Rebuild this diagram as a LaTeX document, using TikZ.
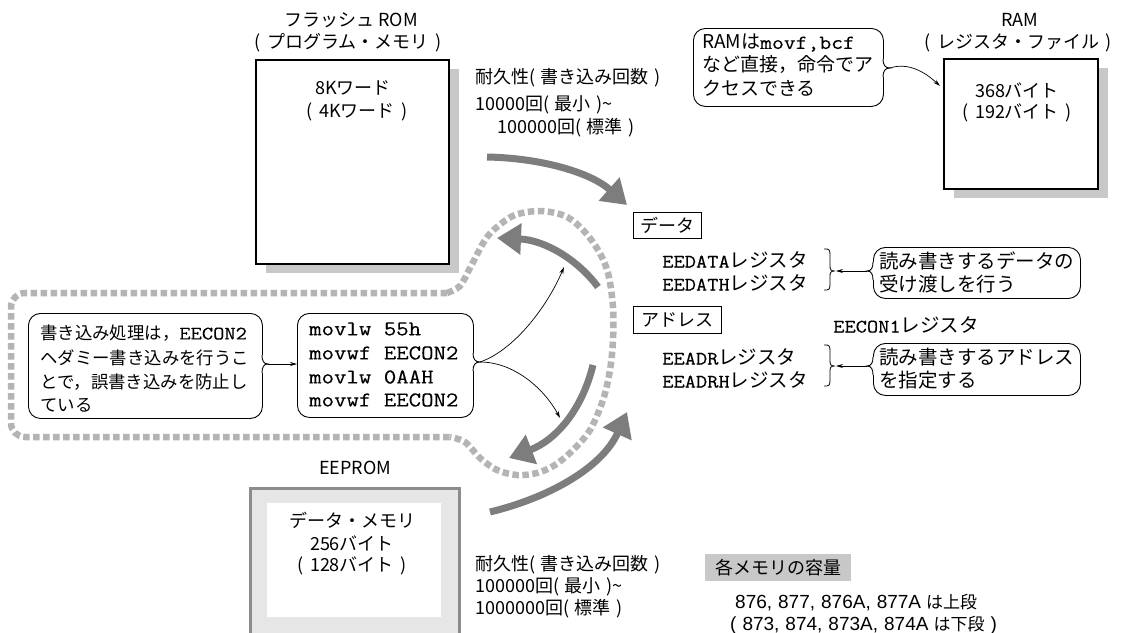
\documentclass[tikz,border=0pt]{standalone}
\usepackage{fontspec}
\setmainfont{Noto Sans CJK JP}
\setmonofont[FakeStretch=1.15,FakeBold=0.3]{Latin Modern Mono}
\newfontfamily\lat{Liberation Sans}
\usetikzlibrary{arrows.meta,calc,shadows}
\definecolor{arrowgray}{RGB}{125,125,125}
\definecolor{dotgray}{RGB}{180,180,180}
\definecolor{shadowgray}{RGB}{200,200,200}
\definecolor{eepromborder}{RGB}{140,140,140}
\definecolor{eepromfill}{RGB}{230,230,230}
\definecolor{labelgray}{RGB}{200,200,200}
\newcommand{\fs}[1]{\fontsize{#1}{#1}\selectfont}
\newcommand{\LP}{(\hspace{0.35em}}
\newcommand{\RP}{\hspace{0.35em})}
\newcommand{\mynotch}[3]{%
  \fill[white] ({#1-1.5},{#2-9}) rectangle ({#1+1.5},{#2+9});
  \draw[line width=0.9pt] (#1,{#2-9}) .. controls (#1,{#2-3}) and ({#1+0.3*#3},#2) .. ({#1+#3},#2)
        .. controls ({#1+0.3*#3},#2) and (#1,{#2+3}) .. (#1,{#2+9});}
\newcommand{\mybrace}[3]{% top y, bottom y, tip y
  \draw[line width=0.8pt] (824,#1) .. controls (829,#1) and (830,#1) .. (830,{#1+6}) -- (830,{#3-5})
     .. controls (830,{#3-1}) and (831,#3) .. (835,#3) .. controls (831,#3) and (830,{#3+1}) .. (830,{#3+5})
     -- (830,{#2-6}) .. controls (830,#2) and (829,#2) .. (824,#2);}
\begin{document}
\begin{tikzpicture}[x=1pt,y=-1pt,
  every node/.style={inner sep=0pt, font=\fs{18}},
  txt/.style={anchor=west},
  code/.style={anchor=west, font=\fs{21}\ttfamily},
  bigarrow/.style={draw=arrowgray, line width=7pt, -{Triangle[length=24pt,width=30pt]}},
  thinarrow/.style={draw=black, line width=0.7pt, -{Stealth[length=7pt,width=4pt]}},
  bubble/.style={draw=black, line width=0.9pt, rounded corners=12pt, anchor=north west},
  dotborder/.style={draw=dotgray, line width=6.5pt, dash pattern=on 6.5pt off 3.5pt},
  membox/.style={draw=black, line width=1.5pt, fill=white, anchor=north west,
     drop shadow={shadow xshift=10pt, shadow yshift=-9pt, fill=shadowgray, opacity=1}},
]
\fill[white] (0,0) rectangle (1127,632);
\useasboundingbox (0,0) rectangle (1127,632);

% dotted outline
\draw[dotborder, rounded corners=14pt] (447,293) -- (11,293) -- (11,437) -- (450,437);
\draw[dotborder] plot[smooth, tension=0.55] coordinates {(447,293) (460,286) (470,268) (485,240) (497,227) (515,215) (540,211) (565,216) (583,230) (598,250) (608,273) (613,307) (613,340) (610,370) (603,400) (590,430) (573,450) (555,465) (537,473) (517,475) (497,470) (480,458) (465,442) (450,437)};

% Flash ROM
\node (ft1) at (351,20) {フラッシュ ROM};
\node (ft2) at (348,43) {\LP プログラム・メモリ\RP};
\node[membox, minimum width=193pt, minimum height=204pt] (flash) at (255,59) {};
\node (fi1) at (353,88) {8Kワード};
\node (fi2) at (357,112) {\LP 4Kワード\RP};

% endurance 1
\node[txt] (e1a) at (475,78) {耐久性(\hspace{0.3em}書き込み回数\hspace{0.3em})};
\node[txt] (e1b) at (475,105) {10000回(\hspace{0.3em}最小\hspace{0.3em})\textasciitilde};
\node[txt] (e1c) at (497,128) {100000回(\hspace{0.3em}標準\hspace{0.3em})};

% RAM
\node (rt1) at (1020,20) {RAM};
\node (rt2) at (1018,43) {\LP レジスタ・ファイル\RP};
\node[membox, minimum width=154pt, minimum height=130pt] (ram) at (943,58) {};
\node (ri1) at (1017,90) {368バイト};
\node (ri2) at (1017,113) {\LP 192バイト\RP};

% RAM callout
\node[bubble, minimum width=190pt, minimum height=78pt] (rcbox) at (693,28) {};
\node[txt, font=\fs{19}] (rc1) at (702,43) {RAMは{\ttfamily\fs{20}movf,bcf}};
\node[txt, font=\fs{19}] (rc2) at (702,65) {など直接，命令でア};
\node[txt, font=\fs{19}] (rc3) at (702,88) {クセスできる};
\mynotch{883}{68}{7}
\coordinate (rctip) at (890,68);
\coordinate (ramin) at (940,86);
\draw[thinarrow] (rctip) .. controls (908,62) and (925,72) .. (ramin);

% left callout
\node[bubble, minimum width=234pt, minimum height=105pt] (lcbox) at (28,313) {};
\node[txt, font=\fs{17.4}] (lc1) at (40,333) {書き込み処理は，{\ttfamily\fs{19}EECON2}};
\node[txt, font=\fs{17.4}] (lc2) at (40,358) {ヘダミー書き込みを行うこ};
\node[txt, font=\fs{17.4}] (lc3) at (40,382) {とで，誤書き込みを防止し};
\node[txt, font=\fs{17.4}] (lc4) at (40,405) {ている};
\mynotch{262}{364}{6}
\coordinate (lctip) at (268,364);

% code box
\node[bubble, minimum width=176pt, minimum height=104pt] (codebox) at (297,313) {};
\node[code] (cd1) at (309,329) {movlw 55h};
\node[code] (cd2) at (309,353) {movwf EECON2};
\node[code] (cd3) at (309,377) {movlw 0AAH};
\node[code] (cd4) at (309,400) {movwf EECON2};
\mynotch{473}{362}{7}
\coordinate (cdtip) at (480,362);
\draw[thinarrow] (lctip) -- (lctip -| codebox.west);
\coordinate (upend) at (564,267);
\coordinate (downend) at (560,418);
\draw[thinarrow] (cdtip) .. controls (515,350) and (548,305) .. (upend);
\draw[thinarrow] (cdtip) .. controls (515,362) and (545,390) .. (downend);

% big gray arrows
\coordinate (a1s) at (487,157); \coordinate (a1e) at (627,205);
\coordinate (a2s) at (598,287); \coordinate (a2e) at (497,238);
\coordinate (a3s) at (593,365); \coordinate (a3e) at (509,458);
\coordinate (a4s) at (490,512); \coordinate (a4e) at (627,412);
\draw[bigarrow] (a1s) .. controls (540,158) and (590,172) .. (a1e);
\draw[bigarrow] (a2s) .. controls (578,260) and (545,240) .. (a2e);
\draw[bigarrow] (a3s) .. controls (582,410) and (556,440) .. (a3e);
\draw[bigarrow] (a4s) .. controls (548,498) and (602,468) .. (a4e);

% data / address
\node[draw, line width=0.9pt, anchor=north west, minimum width=68pt, minimum height=26pt] (data) at (633,212) {データ};
\node[draw, line width=0.9pt, anchor=north west, minimum width=88pt, minimum height=27pt] (addr) at (633,306) {アドレス};
\node[txt, font=\fs{19.5}] (reg1) at (662,260) {{\ttfamily\fs{19}EEDATA}レジスタ};
\node[txt, font=\fs{19.5}] (reg2) at (662,283) {{\ttfamily\fs{19}EEDATH}レジスタ};
\node[txt, font=\fs{19.5}] (eecon) at (833,325) {{\ttfamily\fs{19}EECON1}レジスタ};
\node[txt, font=\fs{19.5}] (reg3) at (662,357) {{\ttfamily\fs{19}EEADR}レジスタ};
\node[txt, font=\fs{19.5}] (reg4) at (662,380) {{\ttfamily\fs{19}EEADRH}レジスタ};
\mybrace{249}{290}{271}
\mybrace{345}{386}{366}
\coordinate (br1) at (836,271);
\coordinate (br2) at (836,366);

\node[bubble, minimum width=207pt, minimum height=51pt] (dcbox) at (873,247) {};
\node[txt, font=\fs{19.5}] (dc1) at (879,261) {読み書きするデータの};
\node[txt, font=\fs{19.5}] (dc2) at (879,284) {受け渡しを行う};
\mynotch{873}{271}{-6}
\coordinate (dctip) at (867,271);
\draw[thinarrow] (dctip) -- (br1);

\node[bubble, minimum width=207pt, minimum height=52pt] (acbox) at (873,343) {};
\node[txt, font=\fs{19.5}] (ac1) at (879,357) {読み書きするアドレス};
\node[txt, font=\fs{19.5}] (ac2) at (879,380) {を指定する};
\mynotch{873}{366}{-6}
\coordinate (actip) at (867,366);
\draw[thinarrow] (actip) -- (br2);

% EEPROM
\node (et) at (355,468) {EEPROM};
\node[draw=eepromborder, line width=3pt, fill=eepromfill, anchor=north west, minimum width=209pt, minimum height=160pt] (eeprom) at (249,487) {};
\node[fill=white, anchor=north west, minimum width=174pt, minimum height=114pt] (eepin) at (267,503) {};
\node (ei1) at (352,520) {データ・メモリ};
\node (ei2) at (352,543) {256バイト};
\node (ei3) at (352,566) {\LP 128バイト\RP};

% endurance 2
\node[txt] (e2a) at (475,565) {耐久性(\hspace{0.3em}書き込み回数\hspace{0.3em})};
\node[txt] (e2b) at (475,587) {100000回(\hspace{0.3em}最小\hspace{0.3em})\textasciitilde};
\node[txt] (e2c) at (475,609) {1000000回(\hspace{0.3em}標準\hspace{0.3em})};

% capacity label
\node[fill=labelgray, anchor=north west, minimum width=146pt, minimum height=27pt] (cap) at (705,554) {各メモリの容量};
\node[txt, font=\fs{17}] (cn1) at (735,603) {{\lat\fs{19}876,\hspace{6pt}877,\hspace{6pt}876A,\hspace{6pt}877A\hspace{5pt}}は上段};
\node[txt, font=\fs{17}] (cn2) at (730,625) {{\lat\fs{19}(\hspace{6pt}873,\hspace{6pt}874,\hspace{6pt}873A,\hspace{6pt}874A\hspace{5pt}}は下段{\lat\fs{19}\hspace{6pt})}};
\end{tikzpicture}
\end{document}
